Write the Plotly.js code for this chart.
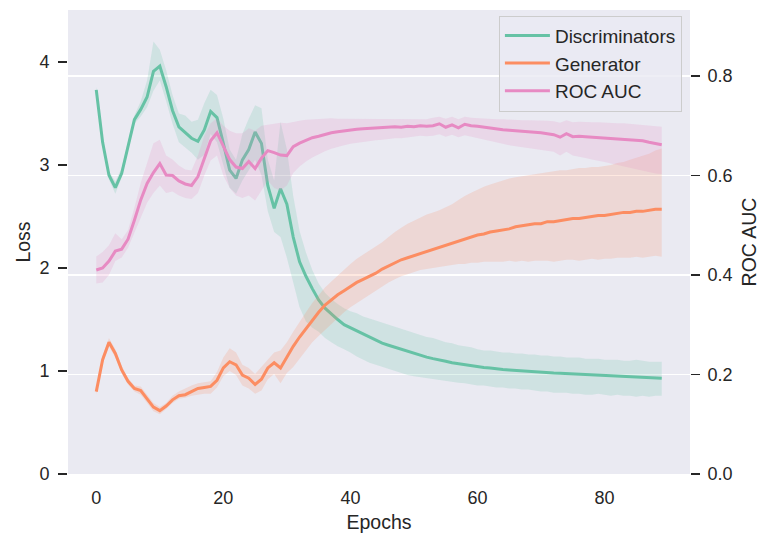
<!DOCTYPE html>
<html>
<head>
<meta charset="utf-8">
<script src="https://cdn.plot.ly/plotly-3.0.1.min.js"></script>
<style>html,body{margin:0;padding:0;background:#fff;}#chart{width:761px;height:538px;}</style>
</head>
<body>
<div id="chart"></div>
<script>
const epochs = Array.from({length: 90}, (_, i) => i);

const discMean = [3.73,3.22,2.90,2.78,2.92,3.18,3.44,3.54,3.66,3.91,
  3.96,3.76,3.53,3.37,3.31,3.26,3.23,3.34,3.52,3.46,
  3.21,2.95,2.87,3.05,3.15,3.32,3.21,2.80,2.58,2.77,
  2.62,2.30,2.06,1.92,1.80,1.69,1.61,1.55,1.50,1.45,
  1.42,1.39,1.36,1.33,1.30,1.27,1.25,1.23,1.21,1.19,
  1.17,1.15,1.135,1.12,1.11,1.095,1.08,1.07,1.06,1.05,
  1.04,1.035,1.03,1.02,1.015,1.01,1.005,1.00,0.995,0.99,
  0.99,0.985,0.98,0.978,0.975,0.97,0.968,0.965,0.96,0.958,
  0.955,0.953,0.95,0.948,0.945,0.943,0.94,0.938,0.935,0.93];
const discLow = [3.70,3.18,2.86,2.72,2.88,3.15,3.40,3.47,3.56,3.72,
  3.82,3.62,3.40,3.22,3.17,3.12,3.05,3.10,3.30,3.22,
  3.00,2.78,2.72,2.85,2.95,3.05,2.90,2.55,2.35,2.30,
  2.10,1.85,1.62,1.48,1.42,1.38,1.32,1.28,1.24,1.21,
  1.18,1.14,1.11,1.08,1.06,1.04,1.02,1.00,0.98,0.96,
  0.95,0.94,0.93,0.92,0.91,0.90,0.89,0.885,0.88,0.87,
  0.86,0.86,0.85,0.84,0.84,0.83,0.83,0.82,0.82,0.81,
  0.80,0.80,0.79,0.79,0.79,0.78,0.78,0.77,0.77,0.78,
  0.77,0.76,0.77,0.76,0.76,0.75,0.76,0.75,0.76,0.76];
const discHigh = [3.76,3.26,2.94,2.84,2.97,3.22,3.48,3.62,3.82,4.20,
  4.12,3.92,3.68,3.50,3.48,3.42,3.44,3.60,3.73,3.68,
  3.45,3.15,3.05,3.30,3.45,3.58,3.55,3.05,2.85,3.42,
  3.15,2.70,2.36,2.15,1.98,1.85,1.76,1.70,1.65,1.61,
  1.58,1.56,1.53,1.51,1.49,1.47,1.45,1.43,1.41,1.39,
  1.37,1.35,1.33,1.32,1.30,1.28,1.27,1.25,1.24,1.23,
  1.21,1.20,1.20,1.19,1.18,1.18,1.17,1.17,1.16,1.16,
  1.15,1.15,1.14,1.14,1.13,1.13,1.13,1.12,1.12,1.12,
  1.11,1.11,1.11,1.10,1.10,1.11,1.10,1.09,1.09,1.09];

const genMean = [0.80,1.11,1.28,1.17,1.01,0.90,0.83,0.81,0.73,0.65,
  0.615,0.66,0.72,0.76,0.77,0.80,0.83,0.84,0.85,0.91,
  1.03,1.09,1.06,0.96,0.93,0.87,0.92,1.03,1.08,1.03,
  1.14,1.24,1.33,1.41,1.50,1.57,1.64,1.69,1.74,1.78,
  1.82,1.86,1.89,1.92,1.95,1.99,2.02,2.05,2.08,2.10,
  2.12,2.14,2.16,2.18,2.20,2.22,2.24,2.26,2.28,2.30,
  2.32,2.33,2.35,2.36,2.37,2.38,2.40,2.41,2.42,2.43,
  2.43,2.45,2.45,2.46,2.47,2.48,2.48,2.49,2.50,2.51,
  2.51,2.52,2.53,2.54,2.54,2.55,2.55,2.56,2.57,2.57];
const genLow = [0.77,1.07,1.24,1.13,0.98,0.87,0.80,0.77,0.69,0.61,
  0.58,0.63,0.69,0.73,0.74,0.76,0.77,0.78,0.78,0.84,
  0.95,1.00,0.96,0.86,0.83,0.78,0.81,0.92,0.97,0.88,
  0.98,1.04,1.12,1.20,1.28,1.34,1.40,1.46,1.52,1.57,
  1.62,1.66,1.70,1.74,1.78,1.82,1.86,1.89,1.92,1.94,
  1.96,1.98,1.99,2.00,2.01,2.02,2.03,2.04,2.04,2.05,
  2.05,2.06,2.06,2.06,2.06,2.07,2.06,2.07,2.06,2.07,
  2.07,2.07,2.06,2.07,2.08,2.08,2.07,2.08,2.09,2.08,
  2.09,2.09,2.10,2.10,2.10,2.11,2.10,2.11,2.12,2.11];
const genHigh = [0.83,1.15,1.32,1.21,1.05,0.93,0.86,0.85,0.77,0.69,
  0.65,0.69,0.76,0.80,0.83,0.86,0.88,0.89,0.90,0.99,
  1.13,1.22,1.18,1.06,1.03,0.97,1.04,1.12,1.18,1.20,
  1.28,1.38,1.48,1.57,1.66,1.74,1.81,1.87,1.93,1.99,
  2.04,2.09,2.13,2.17,2.21,2.25,2.30,2.35,2.39,2.43,
  2.46,2.49,2.52,2.54,2.56,2.59,2.62,2.66,2.70,2.73,
  2.76,2.79,2.81,2.83,2.85,2.87,2.88,2.89,2.90,2.91,
  2.92,2.93,2.94,2.95,2.95,2.96,2.97,2.97,2.98,2.98,
  2.99,3.00,3.02,3.03,3.05,3.07,3.09,3.11,3.14,3.16];

const aucMean = [0.410,0.414,0.428,0.448,0.452,0.472,0.510,0.551,0.584,0.606,
  0.624,0.601,0.600,0.589,0.583,0.580,0.598,0.636,0.670,0.686,
  0.658,0.632,0.617,0.614,0.628,0.614,0.635,0.650,0.646,0.641,
  0.640,0.658,0.665,0.671,0.676,0.679,0.683,0.686,0.688,0.690,
  0.692,0.693,0.694,0.695,0.696,0.697,0.697,0.698,0.697,0.699,
  0.698,0.700,0.699,0.700,0.704,0.697,0.702,0.696,0.703,0.700,
  0.699,0.697,0.696,0.694,0.692,0.691,0.690,0.689,0.688,0.688,
  0.686,0.684,0.682,0.677,0.684,0.678,0.679,0.678,0.677,0.677,
  0.676,0.675,0.674,0.673,0.672,0.671,0.670,0.667,0.664,0.662];
const aucLow = [0.383,0.385,0.400,0.428,0.435,0.455,0.485,0.515,0.545,0.565,
  0.580,0.565,0.568,0.560,0.555,0.553,0.565,0.600,0.630,0.640,
  0.600,0.575,0.560,0.555,0.560,0.550,0.570,0.590,0.575,0.570,
  0.580,0.605,0.618,0.628,0.636,0.643,0.649,0.654,0.658,0.661,
  0.664,0.666,0.668,0.670,0.671,0.672,0.674,0.675,0.675,0.677,
  0.678,0.680,0.679,0.680,0.683,0.678,0.682,0.677,0.681,0.678,
  0.676,0.673,0.670,0.667,0.664,0.661,0.659,0.657,0.655,0.654,
  0.652,0.650,0.648,0.640,0.648,0.640,0.638,0.635,0.632,0.630,
  0.627,0.624,0.621,0.618,0.616,0.612,0.610,0.607,0.604,0.603];
const aucHigh = [0.437,0.446,0.460,0.484,0.472,0.490,0.535,0.585,0.625,0.665,
  0.672,0.640,0.632,0.620,0.612,0.610,0.640,0.680,0.705,0.715,
  0.700,0.690,0.685,0.685,0.695,0.690,0.700,0.702,0.705,0.706,
  0.705,0.708,0.710,0.712,0.713,0.714,0.715,0.715,0.714,0.714,
  0.714,0.713,0.713,0.714,0.714,0.713,0.713,0.714,0.713,0.713,
  0.713,0.714,0.713,0.716,0.718,0.714,0.718,0.713,0.718,0.716,
  0.715,0.714,0.714,0.713,0.713,0.712,0.712,0.711,0.711,0.711,
  0.710,0.710,0.709,0.706,0.711,0.707,0.708,0.707,0.707,0.707,
  0.706,0.706,0.705,0.705,0.704,0.703,0.702,0.700,0.699,0.698];

const seriesNames = ["Discriminators", "Generator", "ROC AUC"];
const colors = ["#66c2a5", "#fc8d62", "#e78ac3"];
const fills = ["rgba(102,194,165,0.2)", "rgba(252,141,98,0.2)", "rgba(231,138,195,0.2)"];

function band(low, high, i, yaxis) {
  return [
    {x: epochs, y: low, yaxis: yaxis, mode: "lines", line: {width: 0, color: fills[i]},
     showlegend: false, hoverinfo: "skip"},
    {x: epochs, y: high, yaxis: yaxis, mode: "lines", line: {width: 0, color: fills[i]},
     fill: "tonexty", fillcolor: fills[i], showlegend: false, hoverinfo: "skip"}
  ];
}
function meanLine(vals, i, yaxis) {
  return {x: epochs, y: vals, yaxis: yaxis, mode: "lines", name: seriesNames[i],
    legendgroup: "g" + i, line: {color: colors[i], width: 3}};
}

const data = [
  ...band(discLow, discHigh, 0, "y"),
  meanLine(discMean, 0, "y"),
  ...band(genLow, genHigh, 1, "y"),
  meanLine(genMean, 1, "y"),
  ...band(aucLow, aucHigh, 2, "y2"),
  meanLine(aucMean, 2, "y2")
];

const FONT = "Liberation Sans, Arial, Helvetica, sans-serif";
const TXT = "#262626";
const layout = {
  width: 761, height: 538,
  margin: {l: 68, r: 71, t: 10, b: 64, pad: 0},
  paper_bgcolor: "#ffffff",
  plot_bgcolor: "#eaeaf2",
  font: {family: FONT, color: TXT, size: 18},
  showlegend: true,
  legend: {
    x: 0.987, y: 0.988, xanchor: "right", yanchor: "top",
    bgcolor: "rgba(234,234,242,0.8)", bordercolor: "#cccccc", borderwidth: 1,
    font: {family: FONT, size: 19, color: TXT},
    traceorder: "grouped", tracegroupgap: 0, itemwidth: 45
  },
  xaxis: {
    range: [-4.45, 93.45], tickvals: [0, 20, 40, 60, 80],
    showgrid: false, zeroline: false, showline: false, ticks: "",
    tickfont: {size: 18, color: TXT}, ticklabelstandoff: 11,
    title: {text: "Epochs", font: {size: 19.5, color: TXT}, standoff: 8}
  },
  yaxis: {
    range: [0, 4.505], tickvals: [0, 1, 2, 3, 4],
    showgrid: false, zeroline: false, showline: false,
    ticks: "outside", ticklen: 9, tickwidth: 1.8, tickcolor: TXT,
    tickfont: {size: 18, color: TXT}, ticklabelstandoff: 5,
    title: {text: "Loss", font: {size: 19.5, color: TXT}, standoff: 3}
  },
  yaxis2: {
    overlaying: "y", side: "right",
    range: [0, 0.9327], tickvals: [0, 0.2, 0.4, 0.6, 0.8], tickformat: ".1f",
    showgrid: true, gridcolor: "#ffffff", gridwidth: 1.8, zeroline: false, showline: false,
    ticks: "outside", ticklen: 9, tickwidth: 1.8, tickcolor: TXT,
    tickfont: {size: 18, color: TXT}, ticklabelstandoff: 4,
    title: {text: "ROC AUC", font: {size: 19.5, color: TXT}, standoff: 10}
  }
};

Plotly.newPlot("chart", data, layout, {staticPlot: true, displayModeBar: false});
</script>
</body>
</html>
